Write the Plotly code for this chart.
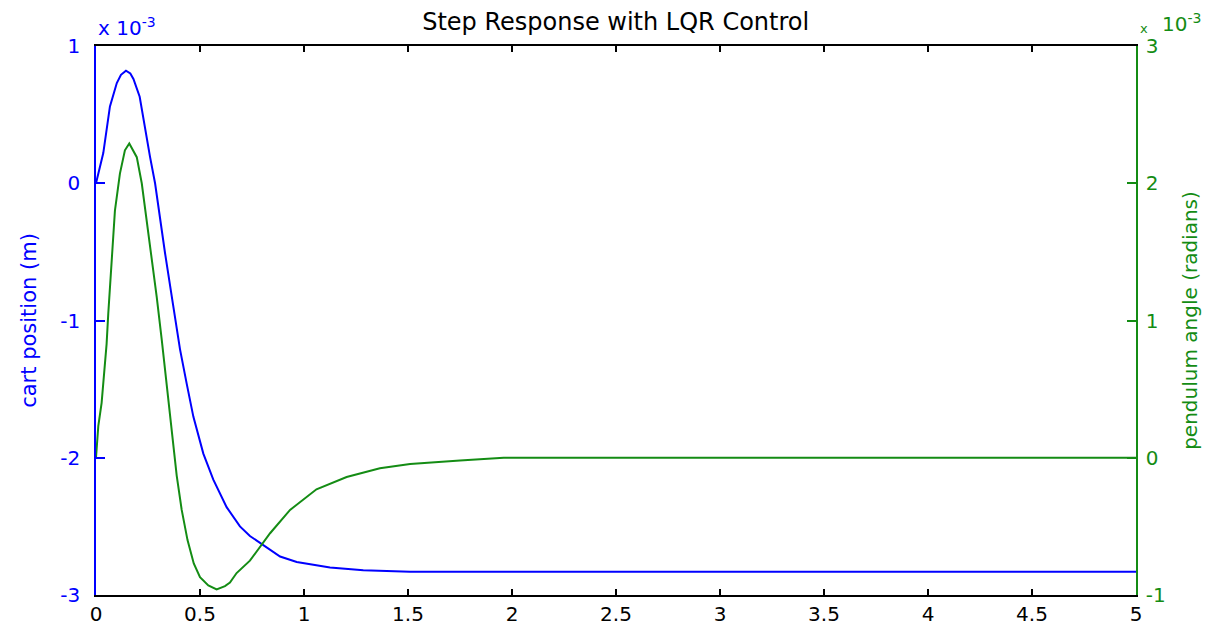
import plotly.graph_objects as go

# time (s)
t_cart = [0, 0.035, 0.067, 0.10, 0.12, 0.144, 0.165, 0.18, 0.21, 0.236, 0.26, 0.284, 0.308,
          0.332, 0.37, 0.404, 0.436, 0.468, 0.516, 0.564, 0.628, 0.692, 0.74, 0.796, 0.885,
          0.965, 1.125, 1.285, 1.51, 2.0, 3.0, 4.0, 5.0]
# cart position (x 10^-3 m)
cart_position = [0.0, 0.22, 0.56, 0.73, 0.79, 0.82, 0.80, 0.76, 0.63, 0.39, 0.19, 0.0, -0.27,
                 -0.51, -0.88, -1.21, -1.46, -1.70, -1.97, -2.16, -2.36, -2.50, -2.57, -2.63, -2.72,
                 -2.76, -2.80, -2.82, -2.83, -2.83, -2.83, -2.83, -2.83]

t_angle = [0, 0.011, 0.027, 0.038, 0.051, 0.059, 0.075, 0.091, 0.115, 0.139, 0.16, 0.196, 0.22,
           0.244, 0.268, 0.292, 0.316, 0.34, 0.364, 0.388, 0.412, 0.44, 0.47, 0.50, 0.54, 0.58,
           0.62, 0.644, 0.676, 0.74, 0.837, 0.933, 1.06, 1.205, 1.365, 1.51, 1.75, 1.96, 3.0, 4.0, 5.0]
# pendulum angle (x 10^-3 rad)
pendulum_angle = [0.0, 0.23, 0.40, 0.59, 0.83, 1.05, 1.46, 1.80, 2.07, 2.24, 2.29, 2.19, 2.00,
                  1.73, 1.46, 1.17, 0.86, 0.52, 0.17, -0.13, -0.38, -0.60, -0.77, -0.87, -0.93, -0.96,
                  -0.935, -0.91, -0.84, -0.75, -0.55, -0.38, -0.23, -0.14, -0.077, -0.045, -0.02, 0.0, 0.0, 0.0, 0.0]

x_ticks = [0, 0.5, 1, 1.5, 2, 2.5, 3, 3.5, 4, 4.5, 5]
x_ticklabels = ["0", "0.5", "1", "1.5", "2", "2.5", "3", "3.5", "4", "4.5", "5"]
left_ticks = [-3, -2, -1, 0, 1]
left_ticklabels = ["-3", "-2", "-1", "0", "1"]
right_ticks = [-1, 0, 1, 2, 3]
right_ticklabels = ["-1", "0", "1", "2", "3"]

BLUE = "rgb(0,0,255)"
GREEN = "rgb(20,140,20)"
FONT = "DejaVu Sans"

fig = go.Figure()
fig.add_trace(go.Scatter(x=t_cart, y=cart_position, mode="lines",
                         line=dict(color=BLUE, width=2), yaxis="y", showlegend=False))
fig.add_trace(go.Scatter(x=t_angle, y=pendulum_angle, mode="lines",
                         line=dict(color=GREEN, width=2), yaxis="y2", showlegend=False))

fig.update_layout(
    width=1224, height=627,
    margin=dict(l=96, r=88, t=46, b=32, autoexpand=False),
    paper_bgcolor="white", plot_bgcolor="white",
    font=dict(family=FONT, size=20, color="black"),
    title=dict(text="Step Response with LQR Control", x=0.503, xanchor="center",
               y=0.965, yanchor="middle", font=dict(family=FONT, size=24, color="black")),
    xaxis=dict(range=[0, 5], tickvals=x_ticks, ticktext=x_ticklabels, showgrid=False,
               zeroline=False, showline=True, linecolor="black", linewidth=1.5,
               mirror="ticks", ticks="inside", ticklen=6, tickwidth=1.5, tickcolor="black",
               automargin=False,
               tickfont=dict(family=FONT, size=20, color="black")),
    yaxis=dict(range=[-3, 1], tickvals=left_ticks, ticktext=left_ticklabels, showgrid=False,
               zeroline=False, automargin=False,
               showline=True, linecolor=BLUE, linewidth=1.5, ticks="inside", ticklen=9,
               tickwidth=1.5, tickcolor=BLUE, ticklabelstandoff=10,
               tickfont=dict(family=FONT, size=20, color=BLUE),
               title=dict(text="cart position (m)", standoff=18,
                          font=dict(family=FONT, size=21, color=BLUE))),
    yaxis2=dict(range=[-1, 3], tickvals=right_ticks, ticktext=right_ticklabels,
                overlaying="y", side="right", automargin=False,
                showgrid=False, zeroline=False, showline=True, linecolor=GREEN,
                linewidth=1.5, ticks="inside", ticklen=9, tickwidth=1.5, tickcolor=GREEN,
                ticklabelstandoff=4,
                tickfont=dict(family=FONT, size=20, color=GREEN),
                title=dict(text="pendulum angle (radians)", standoff=18,
                           font=dict(family=FONT, size=20, color=GREEN))),
    annotations=[
        dict(text="x 10<sup>-3</sup>", xref="paper", yref="paper", x=0.0, y=1.0,
             xanchor="left", yanchor="bottom", showarrow=False, yshift=4,
             font=dict(family=FONT, size=20, color=BLUE)),
        dict(text="x", xref="paper", yref="paper", x=1.0, y=1.0,
             xanchor="left", yanchor="bottom", showarrow=False, yshift=8, xshift=2,
             font=dict(family=FONT, size=13, color=GREEN)),
        dict(text="10<sup>-3</sup>", xref="paper", yref="paper", x=1.0, y=1.0,
             xanchor="left", yanchor="bottom", showarrow=False, yshift=8, xshift=24,
             font=dict(family=FONT, size=20, color=GREEN)),
    ],
)

fig.write_html("out.html")
